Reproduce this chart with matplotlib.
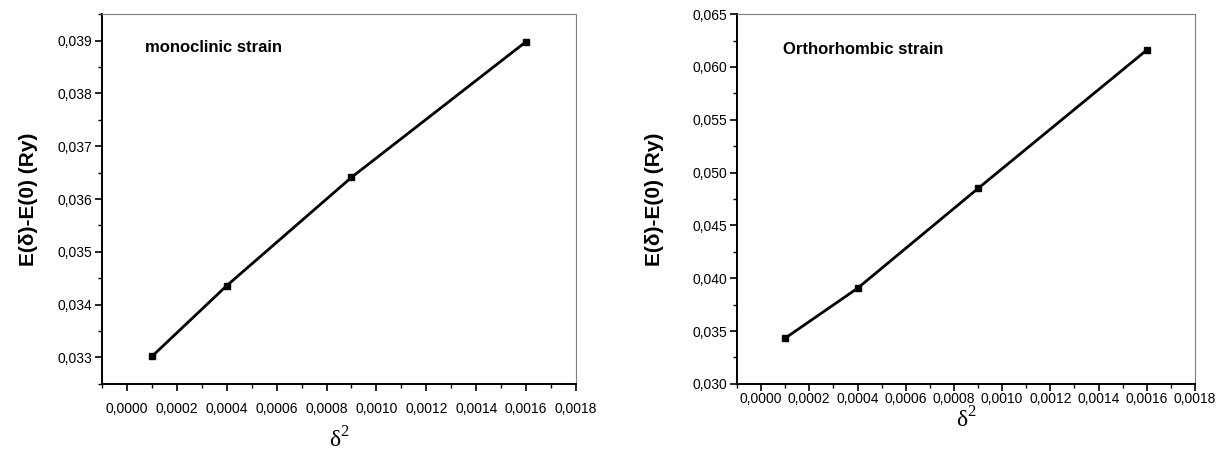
import matplotlib
matplotlib.use('Agg')
import matplotlib.pyplot as plt
import numpy as np

# strain squared (x) and energy difference (y)
delta2 = [0.0001, 0.0004, 0.0009, 0.0016]
e_mono = [0.03302, 0.03436, 0.03641, 0.03898]
e_ortho = [0.03433, 0.03905, 0.04850, 0.06160]

x_ticks = [0.0000, 0.0002, 0.0004, 0.0006, 0.0008, 0.0010, 0.0012, 0.0014, 0.0016, 0.0018]
mono_yticks = [0.033, 0.034, 0.035, 0.036, 0.037, 0.038, 0.039]
ortho_yticks = [0.030, 0.035, 0.040, 0.045, 0.050, 0.055, 0.060, 0.065]

NARROW = ['Liberation Sans Narrow', 'Liberation Sans', 'DejaVu Sans']
SANS = ['Liberation Sans', 'DejaVu Sans']
SERIF = ['Liberation Serif', 'DejaVu Serif']


def comma(v, nd):
    return f'{v:.{nd}f}'.replace('.', ',')


def style_axes(ax, yticks, xlabelpad):
    for s in ['left', 'bottom']:
        ax.spines[s].set_linewidth(1.4)
        ax.spines[s].set_color('black')
    for s in ['top', 'right']:
        ax.spines[s].set_linewidth(0.8)
        ax.spines[s].set_color('#7f7f7f')
    ax.set_xticks(x_ticks)
    ax.set_xticklabels([comma(v, 4) for v in x_ticks], family=NARROW, fontsize=10)
    ax.set_yticks(yticks)
    ax.set_yticklabels([comma(v, 3) for v in yticks], family=NARROW, fontsize=10)
    ax.set_xticks([v + 0.0001 for v in [-0.0002] + x_ticks[:-1]], minor=True)
    step = yticks[1] - yticks[0]
    ax.set_yticks([v + step / 2 for v in [yticks[0] - step] + yticks], minor=True)
    ax.tick_params(which='major', direction='out', length=5, width=1.2, top=False, right=False)
    ax.tick_params(which='minor', direction='out', length=3, width=1.0, top=False, right=False)
    ax.tick_params(axis='y', pad=2)
    ax.set_xlim(-0.0001, 0.0018)
    ax.set_ylabel('E(δ)-E(0) (Ry)', family=SANS, fontsize=15, fontweight='bold')
    ax.set_xlabel('δ$^{2}$', family=SERIF, fontsize=17, labelpad=xlabelpad)


plt.rcParams['mathtext.fontset'] = 'custom'
plt.rcParams['mathtext.rm'] = 'Liberation Serif'

fig = plt.figure(figsize=(12.31, 4.57), dpi=100)

ax1 = fig.add_axes([0.0829, 0.160, 0.385, 0.809])
ax1.plot(delta2, e_mono, color='black', linewidth=2, marker='s', markersize=5)
style_axes(ax1, mono_yticks, 8)
ax1.tick_params(axis='x', pad=8)
ax1.set_ylim(0.0325, 0.0395)
ax1.yaxis.set_label_coords(-0.135, 0.5)
ax1.text(0.09, 0.91, 'monoclinic strain', transform=ax1.transAxes, family=NARROW,
         fontsize=12, fontweight='bold', va='center')

ax2 = fig.add_axes([0.5987, 0.160, 0.372, 0.809])
ax2.plot(delta2, e_ortho, color='black', linewidth=2, marker='s', markersize=5)
style_axes(ax2, ortho_yticks, 1)
ax2.tick_params(axis='x', pad=1)
ax2.set_ylim(0.030, 0.065)
ax2.yaxis.set_label_coords(-0.16, 0.5)
ax2.text(0.10, 0.905, 'Orthorhombic strain', transform=ax2.transAxes, family=NARROW,
         fontsize=12, fontweight='bold', va='center')

fig.savefig('out.png', dpi=100)
